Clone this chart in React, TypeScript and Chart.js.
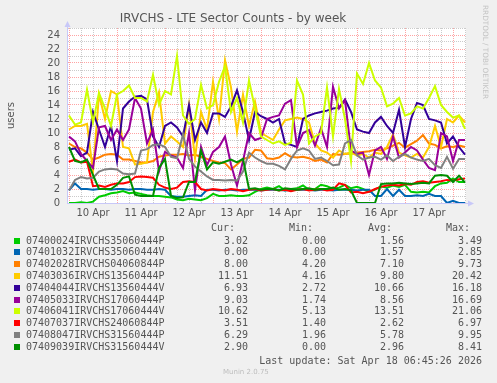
import React, { useEffect, useRef } from 'react';
import { Chart, registerables } from 'chart.js';

Chart.register(...registerables);

const TITLE = 'IRVCHS - LTE Sector Counts - by week';
const Y_LABEL = 'users';
const Y_MAX = 25;

// hours since 10 Apr 00:00 (3-hour samples)
const HOURS = [0, 3, 6, 9, 12, 15, 18, 21, 24, 27, 30, 33, 36, 39, 42, 45, 48, 51, 54, 57, 60, 63, 66, 69, 72, 75, 78, 81, 84, 87, 90, 93, 96, 99, 102, 105, 108, 111, 114, 117, 120, 123, 126, 129, 132, 135, 138, 141, 144, 147, 150, 153, 156, 159, 162, 165, 168, 171, 174, 177, 180, 183, 186, 189, 192, 195, 198];
const DAY_LABELS = ['10 Apr', '11 Apr', '12 Apr', '13 Apr', '14 Apr', '15 Apr', '16 Apr', '17 Apr'];

const v07400024P = [0, 0, 0.1, 0, 0.2, 0.9, 1.1, 1.4, 1.5, 1.7, 1.4, 1.5, 1.3, 1.1, 1.0, 1.0, 0.9, 0.8, 0.5, 0.4, 0.6, 0.5, 0.4, 0.7, 1.3, 1.0, 1.0, 1.1, 1.0, 1.0, 1.1, 1.6, 2.0, 2.2, 2.0, 2.4, 1.8, 2.0, 2.1, 2.5, 1.9, 2.0, 2.6, 2.4, 2.0, 2.2, 2.6, 2.1, 2.3, 2.0, 1.6, 1.9, 2.4, 2.2, 2.5, 2.3, 2.6, 1.6, 1.5, 1.6, 1.5, 2.4, 2.8, 2.9, 3.5, 3.0, 3.0];
const v07401032V = [1.8, 2.8, 2.0, 2.0, 1.9, 2.0, 2.0, 1.9, 2.0, 2.0, 1.9, 2.0, 2.0, 1.9, 1.9, 2.0, 1.9, 1.0, 0.9, 0.9, 1.0, 1.1, 1.0, 1.9, 1.9, 1.8, 1.9, 1.9, 1.8, 1.9, 1.9, 1.9, 1.8, 1.9, 1.9, 1.9, 1.8, 1.9, 1.9, 1.9, 1.9, 1.8, 1.9, 1.9, 1.8, 1.9, 1.9, 1.9, 1.8, 1.9, 1.9, 1.0, 1.0, 2.0, 1.0, 1.9, 1.0, 1.0, 1.1, 1.0, 1.3, 1.0, 1.0, 0, 0.3, 0, 0];
const v07402028P = [8.5, 8.0, 7.8, 7.2, 6.2, 6.5, 6.9, 7.0, 6.9, 6.2, 6.2, 6.0, 5.8, 5.8, 6.0, 6.6, 6.8, 6.9, 6.9, 7.0, 6.8, 6.9, 6.6, 6.3, 6.0, 5.8, 5.7, 4.8, 5.5, 6.3, 6.5, 7.6, 7.5, 6.4, 6.3, 6.5, 7.1, 6.6, 6.5, 6.6, 6.4, 6.0, 6.2, 5.8, 7.0, 6.9, 7.0, 7.1, 7.2, 7.3, 7.4, 7.6, 7.5, 7.8, 8.2, 8.6, 7.9, 8.4, 8.9, 9.7, 8.5, 8.3, 7.8, 8.1, 8.0, 8.2, 8.0];
const v07403036P = [10.5, 11.0, 11.0, 11.3, 4.5, 15.5, 12.0, 16.0, 15.5, 8.0, 7.8, 5.5, 5.6, 5.8, 13.0, 15.8, 8.5, 9.5, 8.8, 8.0, 14.0, 6.4, 13.0, 10.5, 17.3, 12.0, 20.4, 16.5, 10.2, 15.5, 11.0, 14.5, 10.0, 9.5, 9.0, 10.5, 11.8, 12.0, 12.2, 12.0, 11.5, 8.5, 7.5, 7.2, 6.5, 7.5, 7.0, 7.2, 6.8, 7.0, 6.5, 7.2, 7.0, 8.0, 9.8, 7.2, 6.8, 6.5, 7.0, 6.5, 8.0, 11.0, 8.0, 12.0, 11.5, 12.5, 11.5];
const v07404044V = [7.6, 7.8, 6.7, 7.2, 13.0, 10.5, 8.0, 11.0, 6.0, 13.5, 14.5, 15.2, 15.3, 14.8, 9.5, 8.0, 11.0, 11.5, 10.8, 9.5, 14.0, 9.0, 11.5, 10.0, 12.8, 12.8, 12.3, 13.8, 16.1, 13.0, 9.0, 13.0, 12.4, 12.0, 11.5, 12.0, 8.5, 8.3, 8.0, 12.0, 12.5, 12.8, 13.0, 13.2, 13.5, 13.6, 14.8, 13.0, 10.5, 10.2, 10.0, 11.5, 12.3, 11.0, 10.0, 13.3, 8.0, 12.0, 14.3, 14.0, 12.0, 11.8, 11.5, 8.5, 9.5, 8.0, 6.9];
const v07405033P = [9.5, 8.8, 7.0, 6.0, 5.0, 10.8, 11.0, 9.0, 10.5, 9.0, 10.5, 15.0, 13.5, 8.5, 10.5, 4.5, 7.3, 6.8, 6.5, 5.0, 10.0, 1.8, 8.0, 5.4, 7.3, 8.0, 9.5, 5.5, 2.5, 6.0, 10.0, 9.0, 9.3, 12.0, 12.3, 12.5, 14.2, 14.7, 8.0, 10.0, 10.4, 8.2, 10.7, 8.0, 16.6, 13.5, 14.7, 7.5, 7.0, 7.2, 4.0, 7.5, 8.0, 6.3, 9.5, 6.5, 7.2, 8.0, 7.5, 6.2, 5.0, 4.7, 10.0, 9.5, 6.0, 9.0, 9.0];
const v07406041V = [12.5, 11.2, 11.5, 16.2, 11.5, 15.7, 13.5, 11.0, 15.5, 16.0, 16.8, 15.0, 15.0, 14.5, 18.3, 14.0, 16.0, 15.5, 21.0, 12.5, 11.3, 12.0, 16.9, 13.5, 14.0, 17.3, 19.5, 13.0, 15.0, 11.5, 17.5, 13.5, 9.5, 9.0, 8.5, 8.8, 8.3, 8.6, 17.5, 15.5, 8.5, 9.5, 10.0, 16.5, 9.5, 16.3, 12.0, 6.0, 18.5, 17.0, 20.0, 17.5, 16.5, 13.8, 14.2, 15.0, 12.5, 12.8, 13.8, 13.5, 15.0, 16.7, 14.0, 13.0, 12.2, 12.5, 10.6];
const v07407037P = [5.9, 6.2, 5.8, 5.9, 2.4, 2.5, 2.3, 2.6, 2.8, 2.8, 3.0, 3.7, 3.8, 3.7, 3.6, 2.6, 2.2, 2.0, 2.2, 3.0, 3.1, 3.0, 2.0, 1.8, 2.0, 1.9, 1.8, 2.0, 1.9, 1.7, 1.9, 2.0, 1.8, 1.9, 2.0, 1.8, 1.9, 1.7, 1.9, 2.0, 1.8, 1.9, 2.0, 1.8, 1.9, 2.8, 2.6, 1.5, 1.6, 1.4, 1.6, 2.0, 2.3, 2.5, 2.6, 2.5, 2.7, 2.6, 3.0, 3.1, 2.9, 3.0, 3.1, 3.3, 3.2, 3.4, 3.5];
const v07408047P = [1.8, 3.3, 3.7, 3.5, 3.6, 4.5, 4.8, 4.9, 4.8, 4.2, 4.1, 4.2, 7.5, 7.7, 8.3, 8.4, 8.0, 6.6, 6.4, 9.8, 6.3, 5.2, 4.5, 3.8, 3.3, 3.3, 3.2, 3.3, 3.2, 4.5, 7.2, 6.5, 6.0, 5.6, 5.6, 5.3, 4.8, 6.3, 7.5, 7.8, 7.5, 6.3, 6.5, 6.0, 5.4, 5.5, 8.5, 9.0, 6.8, 6.2, 6.5, 6.6, 6.2, 6.8, 6.0, 6.6, 7.0, 6.5, 6.2, 6.0, 6.3, 5.4, 5.0, 6.6, 4.9, 6.3, 6.3];
const v07409039V = [8.0, 6.0, 5.8, 6.2, 4.0, 2.0, 2.0, 2.0, 2.6, 3.6, 3.8, 1.2, 1.0, 1.0, 1.0, 5.0, 6.3, 1.0, 0.7, 0.8, 3.0, 3.0, 7.5, 4.8, 5.8, 5.6, 5.9, 6.2, 5.8, 6.3, 2.0, 2.1, 1.9, 2.0, 2.0, 1.8, 2.1, 2.0, 1.9, 2.0, 2.1, 1.9, 2.0, 2.0, 2.2, 1.9, 2.0, 1.8, 0, 0, 0, 0, 2.7, 2.8, 2.8, 2.9, 2.8, 2.7, 2.8, 2.9, 2.8, 3.9, 4.0, 3.9, 3.0, 3.9, 2.9];

const SERIES_NAMES = ['07400024IRVCHS35060444P', '07401032IRVCHS35060444V', '07402028IRVCHS04060844P', '07403036IRVCHS13560444P', '07404044IRVCHS13560444V', '07405033IRVCHS17060444P', '07406041IRVCHS17060444V', '07407037IRVCHS24060844P', '07408047IRVCHS31560444P', '07409039IRVCHS31560444V'];
const SERIES_VALUES = [v07400024P, v07401032V, v07402028P, v07403036P, v07404044V, v07405033P, v07406041V, v07407037P, v07408047P, v07409039V];
const SERIES_COLORS = ['#00cc00', '#0066b3', '#ff8000', '#ffcc00', '#330099', '#990099', '#ccff00', '#ff0000', '#808080', '#008f00'];

const CUR = ['3.02', '0.00', '8.00', '11.51', '6.93', '9.03', '10.62', '3.51', '6.29', '2.90'];
const MIN = ['0.00', '0.00', '4.20', '4.16', '2.72', '1.74', '5.13', '1.40', '1.96', '0.00'];
const AVG = ['1.56', '1.57', '7.10', '9.80', '10.66', '8.56', '13.51', '2.62', '5.78', '2.96'];
const MAX = ['3.49', '2.85', '9.73', '20.42', '16.18', '16.69', '21.06', '6.97', '9.95', '8.41'];
const COLUMN_HEADERS = ['Cur:', 'Min:', 'Avg:', 'Max:'];

const LAST_UPDATE = 'Last update: Sat Apr 18 06:45:26 2026';
const MUNIN = 'Munin 2.0.75';
const WATERMARK = 'RRDTOOL / TOBI OETIKER';

const MONO = '"DejaVu Sans Mono", monospace';
const SANS = '"DejaVu Sans", sans-serif';
const TEXT = '#555555';
const AXIS = '#c8c8f8';
const MAJOR = 'rgba(255, 0, 0, 0.36)';
const MINOR = 'rgba(140, 140, 140, 0.45)';

export default function App() {
  const ref = useRef<HTMLCanvasElement>(null);

  useEffect(() => {
    const canvas = ref.current;
    if (!canvas) return;

    const plotBg = {
      id: 'plotBg',
      beforeDraw(chart: any) {
        const { ctx, chartArea: a } = chart;
        ctx.save();
        ctx.fillStyle = '#ffffff';
        ctx.fillRect(a.left, a.top, a.right - a.left, a.bottom - a.top);
        ctx.restore();
      },
    };

    const arrows = {
      id: 'arrows',
      afterDraw(chart: any) {
        const { ctx, chartArea: a } = chart;
        ctx.save();
        ctx.strokeStyle = AXIS;
        ctx.fillStyle = AXIS;
        ctx.lineWidth = 1;
        const lx = Math.round(a.left) + 0.5;
        const by = Math.round(a.bottom) + 0.5;
        ctx.beginPath();
        ctx.moveTo(lx, a.top);
        ctx.lineTo(lx, a.top - 2);
        ctx.moveTo(a.right, by);
        ctx.lineTo(a.right + 2, by);
        ctx.stroke();
        ctx.beginPath();
        ctx.moveTo(lx - 3, a.top - 1);
        ctx.lineTo(lx + 3, a.top - 1);
        ctx.lineTo(lx, a.top - 7);
        ctx.closePath();
        ctx.fill();
        ctx.beginPath();
        ctx.moveTo(a.right + 2, by - 3);
        ctx.lineTo(a.right + 2, by + 3);
        ctx.lineTo(a.right + 8, by);
        ctx.closePath();
        ctx.fill();
        ctx.restore();
      },
    };

    const xGrid = HOURS.filter((h) => h % 6 === 0);
    const yGrid = Array.from({ length: Y_MAX + 1 }, (_, i) => i);

    const chart = new Chart(canvas, {
      type: 'line',
      data: {
        datasets: SERIES_VALUES.map((vals, i) => ({
          label: SERIES_NAMES[i],
          data: HOURS.map((h, j) => ({ x: h, y: vals[j] })),
          borderColor: SERIES_COLORS[i],
          backgroundColor: SERIES_COLORS[i],
          borderWidth: 2,
          pointRadius: 0,
          tension: 0,
          fill: false,
          order: SERIES_VALUES.length - 1 - i,
        })),
      },
      options: {
        animation: false,
        responsive: false,
        maintainAspectRatio: false,
        events: [],
        layout: { autoPadding: false, padding: { left: 0, top: 0, right: 31, bottom: 2 } },
        plugins: {
          legend: { display: false },
          tooltip: { enabled: false },
          title: {
            display: true,
            text: TITLE,
            color: TEXT,
            font: { family: SANS, size: 12, weight: 'normal' },
            padding: { top: 11.6, bottom: 2 },
          },
        },
        scales: {
          x: {
            type: 'linear',
            min: -1,
            max: 198.5,
            afterBuildTicks: (s: any) => {
              s.ticks = xGrid.map((v) => ({ value: v }));
            },
            afterFit: (s: any) => {
              s.height = 20;
            },
            ticks: {
              autoSkip: false,
              maxRotation: 0,
              minRotation: 0,
              padding: 4,
              color: TEXT,
              font: { family: SANS, size: 10 },
              callback: (v: any) => (v % 24 === 12 ? DAY_LABELS[(v - 12) / 24] : ''),
            },
            grid: {
              color: (c: any) => (c.tick && c.tick.value % 24 === 0 ? MAJOR : MINOR),
              lineWidth: 1,
              drawTicks: false,
            },
            border: { color: AXIS, width: 1, dash: [1, 1] },
          },
          y: {
            type: 'linear',
            min: 0,
            max: Y_MAX,
            afterBuildTicks: (s: any) => {
              s.ticks = yGrid.map((v) => ({ value: v }));
            },
            afterFit: (s: any) => {
              s.width = 67;
            },
            ticks: {
              autoSkip: false,
              padding: 7,
              color: TEXT,
              font: { family: SANS, size: 10 },
              callback: (v: any) => (v % 2 === 0 ? String(v) : ''),
            },
            grid: {
              color: (c: any) => (c.tick && c.tick.value % 2 === 0 ? MAJOR : MINOR),
              lineWidth: 1,
              drawTicks: false,
            },
            border: { color: AXIS, width: 1, dash: [1, 1] },
            title: {
              display: true,
              text: Y_LABEL,
              color: TEXT,
              font: { family: SANS, size: 10 },
              padding: { top: 5, bottom: 0 },
            },
          },
        },
      },
      plugins: [plotBg, arrows],
    } as any);

    return () => chart.destroy();
  }, []);

  const rowCenter = (k: number) => 240.5 + 11.8 * k;
  const textStyle = (center: number): React.CSSProperties => ({
    position: 'absolute',
    top: center - 6,
    height: 12,
    lineHeight: '12px',
    fontFamily: MONO,
    fontSize: 10,
    color: TEXT,
    whiteSpace: 'pre',
  });
  const valueRights = [248, 326, 404, 482];
  const headerRights = [235, 313, 392, 470];
  const columns = [CUR, MIN, AVG, MAX];

  return (
    <div
      style={{
        position: 'fixed',
        left: 0,
        top: 0,
        width: 497,
        height: 383,
        background: '#f0f0f0',
        overflow: 'hidden',
      }}
    >
      <canvas ref={ref} width={497} height={225} style={{ position: 'absolute', left: 0, top: 0, display: 'block' }} />
      <div
        style={{
          position: 'absolute',
          left: 481,
          top: 5,
          writingMode: 'vertical-rl',
          fontFamily: SANS,
          fontSize: 7.3,
          lineHeight: '9px',
          color: '#c4c4c4',
          whiteSpace: 'pre',
        }}
      >
        {WATERMARK}
      </div>
      {COLUMN_HEADERS.map((h, c) => (
        <div key={h} style={{ ...textStyle(227.7), left: headerRights[c] - 60, width: 60, textAlign: 'right' }}>
          {h}
        </div>
      ))}
      {SERIES_NAMES.map((name, k) => (
        <React.Fragment key={name}>
          <div
            style={{
              position: 'absolute',
              left: 14,
              top: rowCenter(k) - 3,
              width: 6,
              height: 6,
              background: SERIES_COLORS[k],
            }}
          />
          <div style={{ ...textStyle(rowCenter(k)), left: 26 }}>{name}</div>
          {columns.map((col, c) => (
            <div key={c} style={{ ...textStyle(rowCenter(k)), left: valueRights[c] - 60, width: 60, textAlign: 'right' }}>
              {col[k]}
            </div>
          ))}
        </React.Fragment>
      ))}
      <div style={{ ...textStyle(360.7), left: 482 - 260, width: 260, textAlign: 'right' }}>{LAST_UPDATE}</div>
      <div
        style={{
          position: 'absolute',
          left: 223,
          top: 371.7 - 5,
          height: 10,
          lineHeight: '10px',
          fontFamily: SANS,
          fontSize: 7,
          color: '#bdbdbd',
          whiteSpace: 'pre',
        }}
      >
        {MUNIN}
      </div>
    </div>
  );
}
